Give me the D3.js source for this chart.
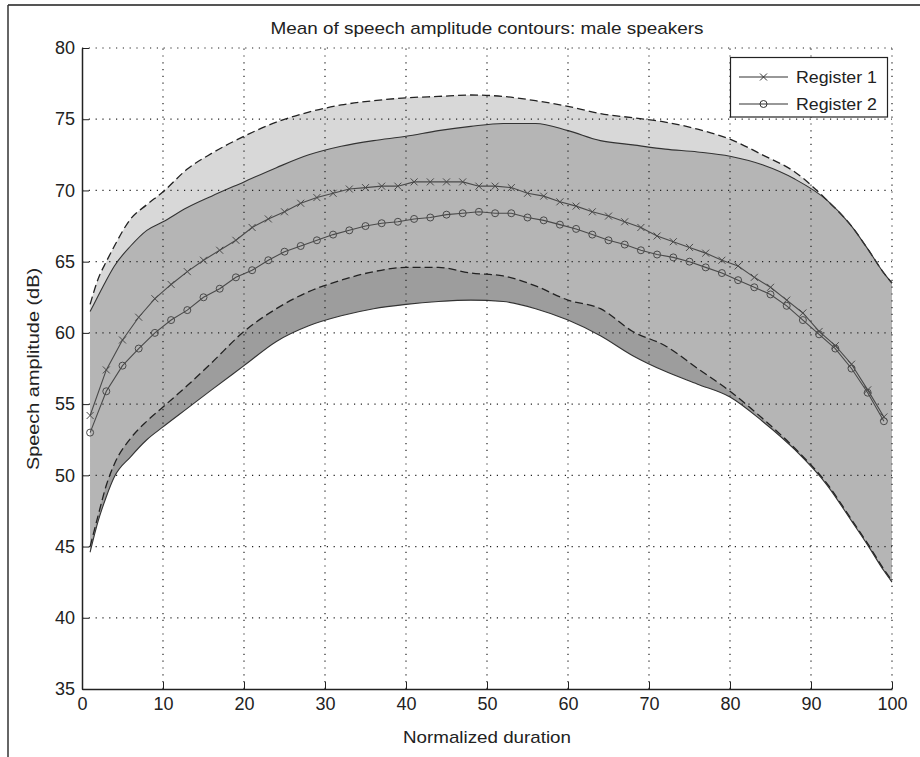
<!DOCTYPE html>
<html>
<head>
<meta http-equiv="Content-Type" content="text/html;charset=utf-8">
<title>Mean of speech amplitude contours</title>
<style>
body { margin: 0; background: #fff; }
svg text { font-family: "Liberation Sans", Arial, Helvetica, sans-serif; fill: #222; }
</style>
</head>
<body>
<svg id="chart" width="920" height="757"></svg>
<script src="https://cdn.jsdelivr.net/npm/d3@7"></script>
<script>
// mean contours, one marker every 2 % of duration
var meanX = d3.range(1, 100, 2);
var register1 = [54.2, 57.4, 59.5, 61.1, 62.4, 63.4, 64.3, 65.1, 65.8, 66.5,
                 67.4, 68.0, 68.5, 69.1, 69.5, 69.8, 70.1, 70.2, 70.3, 70.3,
                 70.6, 70.6, 70.6, 70.6, 70.3, 70.3, 70.2, 69.8, 69.6, 69.2,
                 68.9, 68.5, 68.2, 67.8, 67.4, 66.8, 66.4, 66.0, 65.6, 65.1,
                 64.7, 63.9, 63.2, 62.3, 61.4, 60.1, 59.1, 57.8, 56.0, 54.1];
var register2 = [53.0, 55.9, 57.7, 58.9, 60.0, 60.9, 61.6, 62.5, 63.1, 63.9,
                 64.4, 65.1, 65.7, 66.1, 66.5, 66.9, 67.2, 67.5, 67.7, 67.8,
                 68.0, 68.1, 68.3, 68.4, 68.5, 68.4, 68.4, 68.1, 67.9, 67.6,
                 67.3, 66.9, 66.5, 66.2, 65.8, 65.5, 65.3, 65.0, 64.6, 64.2,
                 63.7, 63.2, 62.7, 61.9, 60.9, 59.9, 58.9, 57.5, 55.8, 53.8];

// spread bands (dashed edges = band A, solid edges = band B)
var bandX   = [1, 2, 3, 4, 6, 8, 10, 13, 16, 20, 24, 28, 32, 36, 40, 44, 48, 52, 56, 60, 64, 68, 72, 76, 80, 84, 88, 92, 95, 97, 99, 100];
var bandAHi = [62.0, 63.8, 65.0, 66.1, 68.0, 69.0, 69.9, 71.5, 72.6, 73.8, 74.8, 75.5, 76.0, 76.3, 76.5, 76.6,
               76.7, 76.6, 76.3, 75.9, 75.4, 75.1, 74.8, 74.3, 73.6, 72.5, 71.3, 69.3, 67.5, 65.9, 64.2, 63.5];
var bandALo = [45.0, 47.2, 49.3, 50.8, 52.6, 53.8, 54.8, 56.3, 57.9, 60.1, 61.7, 62.9, 63.7, 64.3, 64.6, 64.6,
               64.2, 64.0, 63.3, 62.3, 61.7, 60.1, 59.1, 57.5, 55.9, 54.0, 51.9, 49.4, 46.9, 45.2, 43.4, 42.6];
var bandBHi = [61.5, 62.6, 63.7, 64.7, 66.1, 67.2, 67.8, 68.8, 69.6, 70.6, 71.6, 72.5, 73.1, 73.5, 73.8, 74.2,
               74.5, 74.7, 74.7, 74.2, 73.5, 73.2, 72.9, 72.7, 72.4, 71.8, 70.8, 69.3, 67.5, 65.9, 64.2, 63.5];
var bandBLo = [44.6, 46.8, 48.5, 49.9, 51.3, 52.5, 53.4, 54.7, 56.0, 57.7, 59.4, 60.5, 61.2, 61.7, 62.0, 62.2,
               62.3, 62.2, 61.7, 60.9, 59.8, 58.4, 57.3, 56.4, 55.5, 53.8, 51.8, 49.3, 46.8, 45.1, 43.3, 42.5];

var xTicks = d3.range(0, 101, 10);
var yTicks = d3.range(35, 81, 5);
var legendNames = ["Register 1", "Register 2"];

var svg = d3.select("#chart");

// page frame from the scan
svg.append("line").attr("x1", 8).attr("y1", 5).attr("x2", 920).attr("y2", 5)
    .attr("stroke", "#555").attr("stroke-width", 2);
svg.append("line").attr("x1", 8).attr("y1", 5).attr("x2", 8).attr("y2", 757)
    .attr("stroke", "#333").attr("stroke-width", 1.5);

var x = d3.scaleLinear().domain([0, 100]).range([82, 892]);
var y = d3.scaleLinear().domain([35, 80]).range([689, 48]);

function bandRows(hi, lo) {
    return bandX.map(function(v, i) { return {x: v, hi: hi[i], lo: lo[i]}; });
}
var area = d3.area()
    .x(function(d) { return x(d.x); })
    .y0(function(d) { return y(d.lo); })
    .y1(function(d) { return y(d.hi); })
    .curve(d3.curveMonotoneX);

var rowsA = bandRows(bandAHi, bandALo);
var rowsB = bandRows(bandBHi, bandBLo);

svg.append("path").datum(rowsB).attr("d", area).attr("fill", "#9d9d9d");
svg.append("path").datum(rowsA).attr("d", area).attr("fill", "#c2c2c2").attr("fill-opacity", 0.64);

// band edges
function edge(key) {
    return d3.line()
        .x(function(d) { return x(d.x); })
        .y(function(d) { return y(d[key]); })
        .curve(d3.curveMonotoneX);
}
[["hi", rowsA], ["lo", rowsA]].forEach(function(e) {
    svg.append("path").datum(e[1]).attr("d", edge(e[0]))
        .attr("fill", "none").attr("stroke", "#222").attr("stroke-width", 1.3)
        .attr("stroke-dasharray", "8,4");
});
[["hi", rowsB], ["lo", rowsB]].forEach(function(e) {
    svg.append("path").datum(e[1]).attr("d", edge(e[0]))
        .attr("fill", "none").attr("stroke", "#333").attr("stroke-width", 1.1);
});

// dotted grid on top of the fills
var grid = svg.append("g").attr("stroke", "#222").attr("stroke-width", 1.2)
    .attr("stroke-dasharray", "1.2,5.6");
grid.selectAll(".gx").data(xTicks.slice(1)).enter().append("line")
    .attr("x1", function(d) { return x(d); }).attr("x2", function(d) { return x(d); })
    .attr("y1", y(35)).attr("y2", y(80));
grid.selectAll(".gy").data(yTicks.slice(1)).enter().append("line")
    .attr("y1", function(d) { return y(d); }).attr("y2", function(d) { return y(d); })
    .attr("x1", x(0)).attr("x2", x(100));

// mean lines
var meanLine = d3.line()
    .x(function(d, i) { return x(meanX[i]); })
    .y(function(d) { return y(d); });
svg.append("path").datum(register1).attr("d", meanLine)
    .attr("fill", "none").attr("stroke", "#4a4a4a").attr("stroke-width", 1.1);
svg.append("path").datum(register2).attr("d", meanLine)
    .attr("fill", "none").attr("stroke", "#4a4a4a").attr("stroke-width", 1.1);

var crossPath = "M-3.5,-3.5L3.5,3.5M-3.5,3.5L3.5,-3.5";
svg.append("g").selectAll("path").data(register1).enter().append("path")
    .attr("d", crossPath)
    .attr("transform", function(d, i) { return "translate(" + x(meanX[i]) + "," + y(d) + ")"; })
    .attr("stroke", "#4a4a4a").attr("stroke-width", 1).attr("fill", "none");
svg.append("g").selectAll("circle").data(register2).enter().append("circle")
    .attr("cx", function(d, i) { return x(meanX[i]); })
    .attr("cy", function(d) { return y(d); })
    .attr("r", 3.5)
    .attr("stroke", "#4a4a4a").attr("stroke-width", 1).attr("fill", "none");

// axes
var xAxis = svg.append("g").attr("transform", "translate(0," + y(35) + ")")
    .call(d3.axisBottom(x).tickValues(xTicks).tickSize(-7).tickSizeOuter(0).tickPadding(8));
var yAxis = svg.append("g").attr("transform", "translate(" + x(0) + ",0)")
    .call(d3.axisLeft(y).tickValues(yTicks).tickSize(-7).tickSizeOuter(0).tickPadding(7));
[xAxis, yAxis].forEach(function(a) {
    a.select(".domain").attr("stroke", "#222").attr("stroke-width", 1.5);
    a.selectAll(".tick line").attr("stroke", "#222");
    a.selectAll(".tick text").attr("font-size", 18).attr("fill", "#222")
        .style("font-family", "'Liberation Sans', Arial, sans-serif");
});

// titles
svg.append("text").attr("x", 487).attr("y", 34).attr("text-anchor", "middle")
    .attr("font-size", 17).attr("textLength", 433).attr("lengthAdjust", "spacingAndGlyphs")
    .text("Mean of speech amplitude contours: male speakers");
svg.append("text").attr("x", 487).attr("y", 743).attr("text-anchor", "middle")
    .attr("font-size", 17).attr("textLength", 168).attr("lengthAdjust", "spacingAndGlyphs")
    .text("Normalized duration");
svg.append("text").attr("transform", "translate(39,369) rotate(-90)").attr("text-anchor", "middle")
    .attr("font-size", 17).attr("textLength", 202).attr("lengthAdjust", "spacingAndGlyphs")
    .text("Speech amplitude (dB)");

// legend
var legend = svg.append("g");
legend.append("rect").attr("x", 730.5).attr("y", 57.5).attr("width", 157).attr("height", 59.5)
    .attr("fill", "#fff").attr("stroke", "#222").attr("stroke-width", 1.2);
var rowsY = [77, 104];
legend.selectAll(".row").data(legendNames).enter().append("line")
    .attr("x1", 739).attr("x2", 788)
    .attr("y1", function(d, i) { return rowsY[i]; }).attr("y2", function(d, i) { return rowsY[i]; })
    .attr("stroke", "#333").attr("stroke-width", 1.1);
legend.append("path").attr("d", crossPath).attr("transform", "translate(763.5," + rowsY[0] + ")")
    .attr("stroke", "#333").attr("fill", "none");
legend.append("circle").attr("cx", 763.5).attr("cy", rowsY[1]).attr("r", 3.5)
    .attr("stroke", "#333").attr("fill", "none");
legend.selectAll(".lab").data(legendNames).enter().append("text")
    .attr("x", 796).attr("y", function(d, i) { return rowsY[i] + 6; })
    .attr("font-size", 17).attr("textLength", 81).attr("lengthAdjust", "spacingAndGlyphs")
    .text(function(d) { return d; });
</script>
</body>
</html>
